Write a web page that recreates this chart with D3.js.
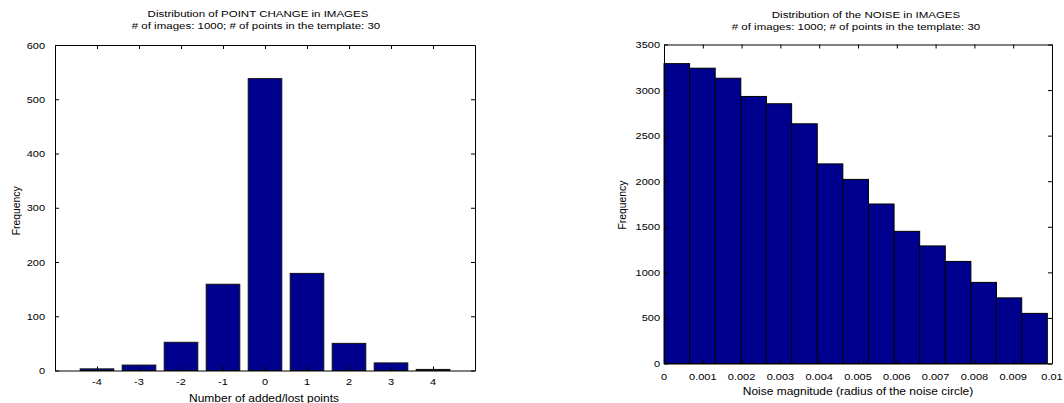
<!DOCTYPE html>
<html>
<head>
<meta charset="utf-8">
<script src="https://cdn.jsdelivr.net/npm/d3@7"></script>
<style>
  html, body { margin: 0; padding: 0; background: #fff; }
  svg text { font-family: "Liberation Sans", Arial, sans-serif; fill: #000; }
</style>
</head>
<body>
<div id="chart"></div>
<script>
// left panel: point change histogram
const changeCats = [-4, -3, -2, -1, 0, 1, 2, 3, 4];
const changeFreq = [3, 10, 52, 159, 538, 179, 50, 14, 2];
const changeYTicks = [0, 100, 200, 300, 400, 500, 600];

// right panel: noise histogram (bin centers + counts)
const noiseCenters = [0.00033, 0.00099, 0.00165, 0.00231, 0.00296, 0.00362, 0.00428, 0.00494,
  0.00560, 0.00626, 0.00692, 0.00758, 0.00824, 0.00889, 0.00955];
const noiseFreq = [3290, 3240, 3130, 2930, 2850, 2630, 2190, 2020, 1750, 1450, 1290, 1120, 890, 720, 550];
const noiseBinWidth = 0.000659;
const noiseXTicks = [0, 0.001, 0.002, 0.003, 0.004, 0.005, 0.006, 0.007, 0.008, 0.009, 0.01];
const noiseXTickLabels = ["0", "0.001", "0.002", "0.003", "0.004", "0.005", "0.006", "0.007", "0.008", "0.009", "0.01"];
const noiseYTicks = [0, 500, 1000, 1500, 2000, 2500, 3000, 3500];

const subtitle = "# of images: 1000; # of points in the template: 30";

const BAR_FILL = "#00008f";
const TICK = 4;
const SY = 0.85; // text looks vertically squashed in the source

const svg = d3.select("#chart").append("svg")
  .attr("width", 1064).attr("height", 403);

function txt(g, x, y, s, anchor, size, rot, sy) {
  const t = g.append("text")
    .attr("transform", rot
      ? `translate(${x},${y}) rotate(-90) scale(0.9,1)`
      : `translate(${x},${y}) scale(1,${sy || SY})`)
    .attr("text-anchor", anchor || "middle")
    .attr("font-size", size)
    .text(s);
  return t;
}

function frame(g, x, y, w, h, xTicks, yTicks) {
  // bottom / top / left / right with inward ticks (box on)
  g.append("g").attr("transform", `translate(0,${h})`)
    .call(d3.axisBottom(x).tickValues(xTicks).tickSize(-TICK).tickSizeOuter(0).tickFormat(""));
  g.append("g")
    .call(d3.axisTop(x).tickValues(xTicks).tickSize(-TICK).tickSizeOuter(0).tickFormat(""));
  g.append("g")
    .call(d3.axisLeft(y).tickValues(yTicks).tickSize(-TICK).tickSizeOuter(0).tickFormat(""));
  g.append("g").attr("transform", `translate(${w},0)`)
    .call(d3.axisRight(y).tickValues(yTicks).tickSize(-TICK).tickSizeOuter(0).tickFormat(""));
  g.selectAll(".domain, .tick line").attr("stroke", "#000").attr("stroke-width", 1);
}

// ---------- left chart ----------
const L = { x: 55, y: 45, w: 420, h: 325.5 };
const gL = svg.append("g").attr("transform", `translate(${L.x},${L.y})`);
const xL = d3.scaleLinear().domain([-5, 5]).range([0, L.w]);
const yL = d3.scaleLinear().domain([0, 600]).range([L.h, 0]);

gL.selectAll("rect").data(changeCats).join("rect")
  .attr("x", d => xL(d - 0.4))
  .attr("width", d => xL(d + 0.4) - xL(d - 0.4))
  .attr("y", (d, i) => yL(changeFreq[i]))
  .attr("height", (d, i) => yL(0) - yL(changeFreq[i]))
  .attr("fill", BAR_FILL)
  .attr("stroke", "#111")
  .attr("stroke-width", 1);

frame(gL, xL, yL, L.w, L.h, changeCats, changeYTicks);

changeCats.forEach(c => txt(gL, xL(c), L.h + 14.5, String(c), "middle", 11));
changeYTicks.forEach(v => txt(gL, -10, yL(v) + 3.5, String(v), "end", 11));

txt(svg, 258, 17, "Distribution of POINT CHANGE in IMAGES", "middle", 11.5, false, 0.8);
txt(svg, 256, 28.5, subtitle, "middle", 11.5, false, 0.8);
txt(svg, L.x + L.w / 2 - 1, 401.5, "Number of added/lost points", "middle", 12);
txt(svg, 19.5, L.y + L.h / 2 + 3, "Frequency", "middle", 11.5, true);

// ---------- right chart ----------
const R = { x: 664, y: 44.5, w: 388, h: 319 };
const gR = svg.append("g").attr("transform", `translate(${R.x},${R.y})`);
const xR = d3.scaleLinear().domain([0, 0.01]).range([0, R.w]);
const yR = d3.scaleLinear().domain([0, 3500]).range([R.h, 0]);

gR.selectAll("rect").data(noiseCenters).join("rect")
  .attr("x", d => xR(d - noiseBinWidth / 2))
  .attr("width", d => xR(d + noiseBinWidth / 2) - xR(d - noiseBinWidth / 2))
  .attr("y", (d, i) => yR(noiseFreq[i]))
  .attr("height", (d, i) => yR(0) - yR(noiseFreq[i]))
  .attr("fill", BAR_FILL)
  .attr("stroke", "#000")
  .attr("stroke-width", 1);

frame(gR, xR, yR, R.w, R.h, noiseXTicks, noiseYTicks);

noiseXTicks.forEach((v, i) => txt(gR, xR(v), R.h + 16.5, noiseXTickLabels[i], "middle", 11));
noiseYTicks.forEach(v => txt(gR, -4, yR(v) + 3.5, String(v), "end", 11));

txt(svg, 866, 18, "Distribution of the NOISE in IMAGES", "middle", 11.5, false, 0.8);
txt(svg, 856, 29.5, subtitle, "middle", 11.5, false, 0.8);
txt(svg, R.x + R.w / 2, 394.5, "Noise magnitude (radius of the noise circle)", "middle", 12);
txt(svg, 625.5, R.y + R.h / 2 + 1, "Frequency", "middle", 11.5, true);
</script>
</body>
</html>
